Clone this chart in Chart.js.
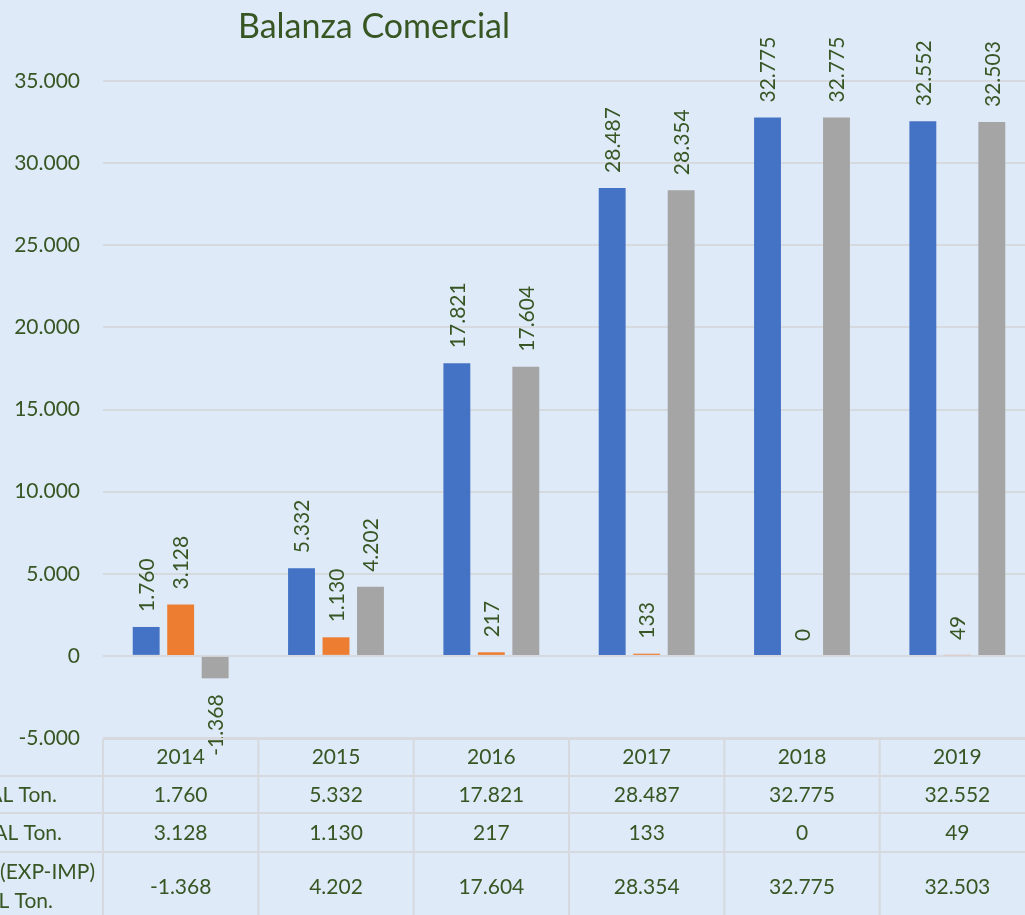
<!DOCTYPE html>
<html>
<head>
<meta charset="utf-8">
<title>Balanza Comercial</title>
<script src="https://cdn.jsdelivr.net/npm/chart.js@4.4.1/dist/chart.umd.min.js"></script>
<style>
  html, body { margin: 0; padding: 0; background: #DEEAF7; overflow: hidden; width: 1025px; height: 915px; }
  #wrap { position: absolute; left: 0; top: 0; }
</style>
</head>
<body>
<div id="wrap"><canvas id="chart" width="1040" height="930"></canvas></div>
<script>
// data
const years = ['2014', '2015', '2016', '2017', '2018', '2019']
const exportTon = [1760, 5332, 17821, 28487, 32775, 32552]
const importTon = [3128, 1130, 217, 133, 0, 49]
const balanceTon = [-1368, 4202, 17604, 28354, 32775, 32503]
const seriesNames = ['EXPORTACIÓN TOTAL Ton.', 'IMPORTACIÓN TOTAL Ton.', 'BALANZA (EXP-IMP) TOTAL Ton.']
const rowLabels = [['EXPORTACIÓN TOTAL Ton.'], ['IMPORTACIÓN TOTAL Ton.'], ['BALANZA (EXP-IMP)', 'TOTAL Ton.']]
const yMin = -5000
const yMax = 35000
const yStep = 5000

const green = '#375623'
const gridGray = '#D6D9DD'
const font = 'Lato, "Open Sans", sans-serif'

function fmt(v) {
  const s = String(Math.abs(v)).replace(/\B(?=(\d{3})+(?!\d))/g, '.')
  return v < 0 ? '-' + s : s
}

// rotated value labels above / below each bar
const barLabels = {
  id: 'barLabels',
  afterDatasetsDraw(chart) {
    const ctx = chart.ctx
    ctx.save()
    ctx.font = '21px ' + font
    ctx.fillStyle = green
    ctx.textBaseline = 'middle'
    chart.data.datasets.forEach((ds, di) => {
      chart.getDatasetMeta(di).data.forEach((bar, i) => {
        const v = ds.data[i]
        ctx.save()
        if (v >= 0) {
          ctx.translate(bar.x + 1, bar.y - 15)
          ctx.rotate(-Math.PI / 2)
          ctx.textAlign = 'left'
        } else {
          ctx.translate(bar.x + 1, bar.y + 16)
          ctx.rotate(-Math.PI / 2)
          ctx.textAlign = 'right'
        }
        ctx.fillText(fmt(v), 0, 0)
        ctx.restore()
      })
    })
    ctx.restore()
  }
}

// data table under the plot + title
const dataTable = {
  id: 'dataTable',
  afterDraw(chart) {
    const ctx = chart.ctx
    const area = chart.chartArea
    const x = chart.scales.x
    const catW = (area.right - area.left) / years.length
    const rows = [area.bottom + 1, 776, 813, 852, 924]
    ctx.save()
    ctx.strokeStyle = gridGray
    ctx.lineWidth = 2
    ctx.beginPath()
    ctx.moveTo(area.left, rows[0]); ctx.lineTo(area.right, rows[0])
    for (let r = 1; r < rows.length; r++) {
      ctx.moveTo(-300, rows[r]); ctx.lineTo(area.right, rows[r])
    }
    for (let i = 0; i <= years.length; i++) {
      const xx = area.left + i * catW
      ctx.moveTo(xx, rows[0]); ctx.lineTo(xx, rows[rows.length - 1])
    }
    ctx.stroke()

    ctx.fillStyle = green
    ctx.font = '21px ' + font
    ctx.textAlign = 'center'
    ctx.textBaseline = 'middle'
    const cols = [years, exportTon.map(fmt), importTon.map(fmt), balanceTon.map(fmt)]
    const rowMid = [757, 795, 833, 887]
    cols.forEach((col, r) => {
      col.forEach((t, i) => ctx.fillText(t, x.getPixelForValue(i), rowMid[r]))
    })

    // row headers (left part is cut off in the reference)
    ctx.textAlign = 'right'
    ctx.fillText(rowLabels[0][0], 57, 795)
    ctx.fillText(rowLabels[1][0], 62, 833)
    ctx.fillText(rowLabels[2][0], 95, 872)
    ctx.fillText(rowLabels[2][1], 53, 901)

    ctx.textAlign = 'center'
    ctx.textBaseline = 'alphabetic'
    ctx.font = '34px ' + font
    ctx.fillText('Balanza Comercial', 374, 38)
    ctx.restore()
  }
}

const data = {
  labels: years,
  datasets: [
    { label: seriesNames[0], data: exportTon, backgroundColor: '#4472C4' },
    { label: seriesNames[1], data: importTon, backgroundColor: '#ED7D31' },
    { label: seriesNames[2], data: balanceTon, backgroundColor: '#A5A5A5' }
  ]
}

const config = {
  type: 'bar',
  data,
  options: {
    responsive: false,
    animation: false,
    devicePixelRatio: 1,
    layout: { padding: { top: 81, right: 5, bottom: 192, left: 0 } },
    datasets: { bar: { categoryPercentage: 0.666, barPercentage: 0.78 } },
    plugins: {
      legend: { display: false },
      title: { display: false },
      tooltip: { enabled: false }
    },
    scales: {
      x: { display: false },
      y: {
        min: yMin,
        max: yMax,
        afterFit: s => { s.width = 103 },
        border: { display: false },
        grid: { color: gridGray, lineWidth: 2, drawTicks: false },
        ticks: {
          stepSize: yStep,
          padding: 23,
          color: green,
          font: { family: font, size: 21 },
          callback: v => fmt(v)
        }
      }
    }
  },
  plugins: [barLabels, dataTable]
}

new Chart(document.getElementById('chart'), config)
</script>
</body>
</html>
